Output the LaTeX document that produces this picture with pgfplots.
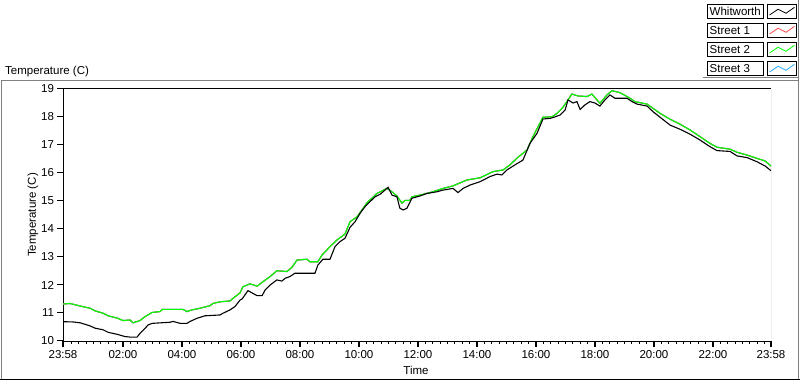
\documentclass[border=0pt]{standalone}
\usepackage{fontspec}
\setmainfont{Liberation Sans}
\usepackage{pgfplots}
\pgfplotsset{compat=1.18}
\definecolor{panelgray}{RGB}{128,128,128}
\definecolor{sred}{RGB}{255,70,70}
\definecolor{sgreen}{RGB}{0,255,0}
\definecolor{scyan}{RGB}{40,170,255}
\begin{document}
\fontsize{11.5}{13}\selectfont
\begin{tikzpicture}[x=1pt,y=1pt]
\path[use as bounding box] (0,0) rectangle (800,380);
\fill[white] (0,0) rectangle (800,380);
% outer panel
\draw[panelgray, line width=1pt] (1.5,1) -- (1.5,299.5) -- (798.5,299.5);
\draw[panelgray, line width=1pt] (798.5,380) -- (798.5,1);
\draw[panelgray, line width=1pt] (703,302.5) -- (798.5,302.5);
\draw[black, line width=1pt] (0,0.5) -- (800,0.5);
\node[anchor=base west, inner sep=0pt] at (5,305) {Temperature (C)};
% legend
\foreach \yy/\lab/\col in {362/Whitworth/black, 343/Street 1/sred, 324/Street 2/sgreen, 305/Street 3/scyan}{
  \draw[black, line width=0.8pt, fill=white] (707.5,\yy) rectangle (763.5,\yy+14);
  \node[anchor=base west, inner sep=0pt] at (709.5,\yy+2.5) {\lab};
  \draw[black, line width=0.8pt, fill=white] (767.5,\yy) rectangle (796.5,\yy+14);
  \draw[\col, line width=0.8pt] (769.5,\yy+3) -- (778,\yy+8.7) -- (786,\yy+4.7) -- (794.5,\yy+10.7);
}
\begin{axis}[
  at={(63pt,39pt)}, anchor=south west,
  scale only axis, width=708pt, height=252pt,
  xmin=0, xmax=24, ymin=10, ymax=19,
  axis x line*=bottom, axis y line*=left,
  axis line style={black, line width=1pt, -},
  ytick={10,11,...,19},
  xtick={0,2.0333,4.0333,6.0333,8.0333,10.0333,12.0333,14.0333,16.0333,18.0333,20.0333,22.0333,24},
  xticklabels={23:58,02:00,04:00,06:00,08:00,10:00,12:00,14:00,16:00,18:00,20:00,22:00,23:58},
  major tick length=0pt,
  /pgf/number format/assume math mode=true,
  ticklabel style={font=\fontsize{11.5}{13}\selectfont},
  xticklabel style={yshift=-5pt},
  yticklabel style={xshift=-5pt},
  clip=true,
]
\addplot[scyan, line width=1.1pt] coordinates {(0,11.32)(0.24,11.34)(0.58,11.25)(0.92,11.17)(1.08,11.08)(1.36,10.99)(1.53,10.90)(1.86,10.81)(2.03,10.73)(2.27,10.75)(2.37,10.65)(2.61,10.73)(2.78,10.87)(3.02,11.02)(3.29,11.05)(3.36,11.13)(4.07,11.13)(4.20,11.05)(4.37,11.11)(4.64,11.17)(4.98,11.26)(5.08,11.34)(5.32,11.40)(5.66,11.43)(5.76,11.52)(6.00,11.72)(6.10,11.94)(6.34,12.04)(6.58,11.96)(6.78,12.12)(7.02,12.30)(7.25,12.51)(7.59,12.48)(7.76,12.63)(7.93,12.89)(8.27,12.92)(8.37,12.83)(8.64,12.83)(8.78,13.07)(9.05,13.37)(9.29,13.61)(9.56,13.82)(9.73,14.26)(9.97,14.44)(10.31,14.94)(10.64,15.27)(10.98,15.45)(11.15,15.33)(11.32,15.18)(11.49,14.92)(11.59,15.02)(11.76,15.02)(11.83,15.15)(12.10,15.21)(12.54,15.33)(12.88,15.45)(13.22,15.54)(13.69,15.75)(14.14,15.83)(14.58,16.05)(14.92,16.11)(15.15,16.29)(15.42,16.56)(15.73,16.82)(15.93,17.30)(16.27,17.99)(16.58,18.01)(16.75,18.13)(16.95,18.35)(17.08,18.55)(17.25,18.82)(17.46,18.75)(17.76,18.73)(17.93,18.82)(18.10,18.61)(18.20,18.49)(18.44,18.79)(18.61,18.94)(18.88,18.87)(19.22,18.67)(19.39,18.55)(19.80,18.46)(20.00,18.31)(20.24,18.13)(20.58,17.92)(20.92,17.74)(21.25,17.54)(21.59,17.30)(21.93,17.06)(22.17,16.92)(22.61,16.85)(22.85,16.74)(23.19,16.64)(23.53,16.52)(23.80,16.43)(24.00,16.25)};
\addplot[sred, line width=1.1pt] coordinates {(0,11.32)(0.24,11.34)(0.58,11.25)(0.92,11.17)(1.08,11.08)(1.36,10.99)(1.53,10.90)(1.86,10.81)(2.03,10.73)(2.27,10.75)(2.37,10.65)(2.61,10.73)(2.78,10.87)(3.02,11.02)(3.29,11.05)(3.36,11.13)(4.07,11.13)(4.20,11.05)(4.37,11.11)(4.64,11.17)(4.98,11.26)(5.08,11.34)(5.32,11.40)(5.66,11.43)(5.76,11.52)(6.00,11.72)(6.10,11.94)(6.34,12.04)(6.58,11.96)(6.78,12.12)(7.02,12.30)(7.25,12.51)(7.59,12.48)(7.76,12.63)(7.93,12.89)(8.27,12.92)(8.37,12.83)(8.64,12.83)(8.78,13.07)(9.05,13.37)(9.29,13.61)(9.56,13.82)(9.73,14.26)(9.97,14.44)(10.31,14.94)(10.64,15.27)(10.98,15.45)(11.15,15.33)(11.32,15.18)(11.49,14.92)(11.59,15.02)(11.76,15.02)(11.83,15.15)(12.10,15.21)(12.54,15.33)(12.88,15.45)(13.22,15.54)(13.69,15.75)(14.14,15.83)(14.58,16.05)(14.92,16.11)(15.15,16.29)(15.42,16.56)(15.73,16.82)(15.93,17.30)(16.27,17.99)(16.58,18.01)(16.75,18.13)(16.95,18.35)(17.08,18.55)(17.25,18.82)(17.46,18.75)(17.76,18.73)(17.93,18.82)(18.10,18.61)(18.20,18.49)(18.44,18.79)(18.61,18.94)(18.88,18.87)(19.22,18.67)(19.39,18.55)(19.80,18.46)(20.00,18.31)(20.24,18.13)(20.58,17.92)(20.92,17.74)(21.25,17.54)(21.59,17.30)(21.93,17.06)(22.17,16.92)(22.61,16.85)(22.85,16.74)(23.19,16.64)(23.53,16.52)(23.80,16.43)(24.00,16.25)};
\addplot[sgreen, line width=1.1pt] coordinates {(0,11.32)(0.24,11.34)(0.58,11.25)(0.92,11.17)(1.08,11.08)(1.36,10.99)(1.53,10.90)(1.86,10.81)(2.03,10.73)(2.27,10.75)(2.37,10.65)(2.61,10.73)(2.78,10.87)(3.02,11.02)(3.29,11.05)(3.36,11.13)(4.07,11.13)(4.20,11.05)(4.37,11.11)(4.64,11.17)(4.98,11.26)(5.08,11.34)(5.32,11.40)(5.66,11.43)(5.76,11.52)(6.00,11.72)(6.10,11.94)(6.34,12.04)(6.58,11.96)(6.78,12.12)(7.02,12.30)(7.25,12.51)(7.59,12.48)(7.76,12.63)(7.93,12.89)(8.27,12.92)(8.37,12.83)(8.64,12.83)(8.78,13.07)(9.05,13.37)(9.29,13.61)(9.56,13.82)(9.73,14.26)(9.97,14.44)(10.31,14.94)(10.64,15.27)(10.98,15.45)(11.15,15.33)(11.32,15.18)(11.49,14.92)(11.59,15.02)(11.76,15.02)(11.83,15.15)(12.10,15.21)(12.54,15.33)(12.88,15.45)(13.22,15.54)(13.69,15.75)(14.14,15.83)(14.58,16.05)(14.92,16.11)(15.15,16.29)(15.42,16.56)(15.73,16.82)(15.93,17.30)(16.27,17.99)(16.58,18.01)(16.75,18.13)(16.95,18.35)(17.08,18.55)(17.25,18.82)(17.46,18.75)(17.76,18.73)(17.93,18.82)(18.10,18.61)(18.20,18.49)(18.44,18.79)(18.61,18.94)(18.88,18.87)(19.22,18.67)(19.39,18.55)(19.80,18.46)(20.00,18.31)(20.24,18.13)(20.58,17.92)(20.92,17.74)(21.25,17.54)(21.59,17.30)(21.93,17.06)(22.17,16.92)(22.61,16.85)(22.85,16.74)(23.19,16.64)(23.53,16.52)(23.80,16.43)(24.00,16.25)};
\addplot[black, line width=1.1pt] coordinates {(0,10.69)(0.34,10.68)(0.58,10.65)(0.92,10.54)(1.08,10.46)(1.36,10.40)(1.53,10.31)(1.83,10.24)(2.10,10.16)(2.27,10.14)(2.51,10.14)(2.61,10.27)(2.78,10.45)(2.88,10.57)(3.02,10.63)(3.63,10.67)(3.73,10.70)(3.97,10.63)(4.20,10.63)(4.31,10.70)(4.54,10.81)(4.81,10.90)(5.32,10.93)(5.42,10.99)(5.66,11.11)(5.83,11.23)(6.00,11.46)(6.07,11.50)(6.27,11.80)(6.44,11.70)(6.58,11.62)(6.75,11.62)(6.85,11.82)(7.02,12.00)(7.25,12.18)(7.42,12.14)(7.53,12.24)(7.69,12.30)(7.86,12.42)(8.54,12.42)(8.64,12.71)(8.81,12.92)(9.05,12.92)(9.22,13.37)(9.39,13.55)(9.56,13.67)(9.73,14.06)(9.90,14.26)(10.07,14.56)(10.24,14.80)(10.41,14.98)(10.58,15.15)(10.75,15.24)(10.85,15.33)(11.02,15.49)(11.15,15.21)(11.32,15.15)(11.42,14.74)(11.53,14.68)(11.66,14.74)(11.83,15.10)(12.10,15.18)(12.34,15.27)(12.68,15.33)(12.88,15.39)(13.22,15.45)(13.39,15.30)(13.56,15.45)(13.80,15.57)(14.14,15.69)(14.47,15.87)(14.71,15.96)(14.88,15.93)(15.05,16.11)(15.32,16.29)(15.59,16.46)(15.83,17.06)(16.07,17.42)(16.27,17.93)(16.51,17.95)(16.61,17.98)(16.85,18.07)(17.02,18.25)(17.12,18.61)(17.29,18.50)(17.42,18.55)(17.53,18.27)(17.69,18.43)(17.86,18.55)(18.03,18.50)(18.20,18.39)(18.37,18.61)(18.54,18.79)(18.71,18.67)(19.12,18.67)(19.29,18.55)(19.46,18.46)(19.80,18.39)(20.00,18.19)(20.24,17.99)(20.58,17.71)(20.92,17.56)(21.25,17.39)(21.59,17.18)(21.93,16.94)(22.17,16.80)(22.61,16.77)(22.85,16.61)(23.19,16.55)(23.53,16.40)(23.80,16.25)(24.00,16.08)};
\draw[black, line width=1pt] (rel axis cs:0,1) -- (rel axis cs:1,1);
\draw[panelgray, line width=1pt] (rel axis cs:1,1) -- (rel axis cs:1,0);
\end{axis}
% tick marks drawn as filled bars (axis spans 63..771 for 0..24 h, 39..291 for 10..19)
\foreach \v in {0,...,9}{ \fill[black] (57,38.5+28*\v) rectangle (63,39.6+28*\v); }
\foreach \h in {0,2.0333,4.0333,6.0333,8.0333,10.0333,12.0333,14.0333,16.0333,18.0333,20.0333,22.0333,24}{
  \fill[black] (62.2+29.5*\h,39) rectangle (63.8+29.5*\h,33); }
\foreach \k in {1,...,95}{
  \pgfmathsetmacro{\hh}{0.0333+0.25*\k}
  \fill[black] (62.5+29.5*\hh,39) rectangle (63.6+29.5*\hh,35.5); }
\node[rotate=90] at (33,165) {Temperature (C)};
\node at (416,10) {Time};
\end{tikzpicture}
\end{document}
